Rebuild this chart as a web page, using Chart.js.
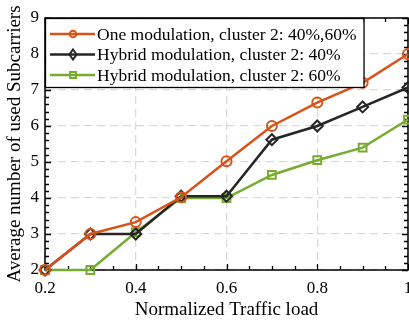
<!DOCTYPE html>
<html>
<head>
<meta charset="utf-8">
<script src="https://cdn.jsdelivr.net/npm/chart.js@4/dist/chart.umd.min.js"></script>
<style>
  html, body { margin: 0; padding: 0; background: #fff; }
  canvas { display: block; }
</style>
</head>
<body>
<canvas id="subcarriers" width="409" height="320"></canvas>
<script>
// values
const trafficLoad = [0.2, 0.3, 0.4, 0.5, 0.6, 0.7, 0.8, 0.9, 1.0];
const oneModulation = [2.0, 3.0, 3.33, 4.02, 5.02, 6.0, 6.65, 7.2, 8.0];
const hybrid40 = [2.0, 3.0, 3.0, 4.05, 4.05, 5.62, 6.0, 6.53, 7.07];
const hybrid60 = [2.0, 2.0, 3.05, 4.0, 4.0, 4.64, 5.05, 5.4, 6.18];
const seriesLabels = [
  'One modulation, cluster 2: 40%,60%',
  'Hybrid modulation, cluster 2: 40%',
  'Hybrid modulation, cluster 2: 60%',
];

const ORANGE = '#d95319';
const BLACK = '#262626';
const GREEN = '#77ac30';
const SERIF = "'Liberation Serif', 'DejaVu Serif', serif";

function toPoints(values) {
  return trafficLoad.map((x, i) => ({ x: x, y: values[i] }));
}

// small legend markers (smaller than the ones on the lines)
function drawMarker(ctx, style, x, y) {
  ctx.beginPath();
  if (style === 'circle') {
    ctx.arc(x, y, 3.3, 0, Math.PI * 2);
  } else if (style === 'rectRot') {
    ctx.moveTo(x, y - 5);
    ctx.lineTo(x + 3.6, y);
    ctx.lineTo(x, y + 5);
    ctx.lineTo(x - 3.6, y);
    ctx.closePath();
  } else {
    ctx.rect(x - 3, y - 3, 6, 6);
  }
  ctx.stroke();
}

// box round the plot + inward ticks on every side
const frameTicks = {
  id: 'frameTicks',
  beforeDatasetsDraw(chart) {
    const { ctx, chartArea: a, scales } = chart;
    const xs = scales.x, ys = scales.y;
    ctx.save();
    ctx.strokeStyle = '#000';
    ctx.lineWidth = 1.3;
    ctx.beginPath();
    for (let k = 0; k <= 16; k++) {
      const px = Math.round(xs.getPixelForValue(0.2 + k * 0.05)) + 0.5;
      const len = k % 4 === 0 ? 6 : 4;
      ctx.moveTo(px, a.bottom); ctx.lineTo(px, a.bottom - len);
      ctx.moveTo(px, a.top); ctx.lineTo(px, a.top + len);
    }
    for (let k = 0; k <= 35; k++) {
      const py = Math.round(ys.getPixelForValue(2 + k * 0.2)) + 0.5;
      const len = k % 5 === 0 ? 6 : 4;
      ctx.moveTo(a.left, py); ctx.lineTo(a.left + len, py);
      ctx.moveTo(a.right, py); ctx.lineTo(a.right - len, py);
    }
    ctx.stroke();
    ctx.lineWidth = 1.5;
    ctx.strokeRect(a.left, a.top, a.right - a.left, a.bottom - a.top);
    ctx.restore();
  }
};

// MATLAB-like legend box in the top-left corner
const cornerLegend = {
  id: 'cornerLegend',
  afterDraw(chart) {
    const { ctx, chartArea: a } = chart;
    ctx.save();
    ctx.font = '17.5px ' + SERIF;
    const widths = chart.data.datasets.map(d => ctx.measureText(d.label).width);
    const textX = a.left + 52;
    const boxW = textX - a.left + Math.max(...widths) + 7;
    const boxH = 69;
    ctx.fillStyle = '#fff';
    ctx.fillRect(a.left, a.top, boxW, boxH);
    ctx.strokeStyle = '#000';
    ctx.lineWidth = 1.3;
    ctx.strokeRect(a.left + 0.5, a.top + 0.5, boxW, boxH);
    chart.data.datasets.forEach((d, i) => {
      const cy = a.top + 16 + i * 20.5;
      ctx.strokeStyle = d.borderColor;
      ctx.lineWidth = 2.5;
      ctx.beginPath();
      ctx.moveTo(a.left + 5, cy);
      ctx.lineTo(a.left + 50, cy);
      ctx.stroke();
      ctx.lineWidth = 2;
      drawMarker(ctx, d.pointStyle, a.left + 28, cy);
      ctx.fillStyle = '#000';
      ctx.textBaseline = 'middle';
      ctx.fillText(d.label, textX, cy + 1);
    });
    ctx.restore();
  }
};

const lineDefaults = {
  borderWidth: 2.5,
  pointBorderWidth: 2,
  pointBackgroundColor: 'rgba(0,0,0,0)',
  fill: false,
  tension: 0,
  clip: false,
};

new Chart(document.getElementById('subcarriers'), {
  type: 'line',
  data: {
    datasets: [
      { ...lineDefaults, label: seriesLabels[0], data: toPoints(oneModulation), borderColor: ORANGE, pointBorderColor: ORANGE, pointStyle: 'circle', pointRadius: 5 },
      { ...lineDefaults, label: seriesLabels[1], data: toPoints(hybrid40), borderColor: BLACK, pointBorderColor: BLACK, pointStyle: 'rectRot', pointRadius: 5.5 },
      { ...lineDefaults, label: seriesLabels[2], data: toPoints(hybrid60), borderColor: GREEN, pointBorderColor: GREEN, pointStyle: 'rect', pointRadius: 5.5 },
    ],
  },
  options: {
    responsive: false,
    animation: false,
    layout: { autoPadding: false, padding: { top: 18, right: 1, left: 0, bottom: 0 } },
    plugins: { legend: { display: false }, tooltip: { enabled: false } },
    scales: {
      x: {
        type: 'linear',
        min: 0.2,
        max: 1,
        ticks: {
          stepSize: 0.2,
          color: '#000',
          padding: 8,
          maxRotation: 0,
          font: { family: SERIF, size: 17 },
          callback: v => String(+v.toFixed(1)),
        },
        grid: { color: '#d9d9d9', lineWidth: 1.3, drawTicks: false },
        border: { display: false, dash: [8, 5] },
        title: {
          display: true,
          text: 'Normalized Traffic load',
          color: '#000',
          font: { family: SERIF, size: 19, lineHeight: 1 },
          padding: { top: 0, bottom: 0 },
        },
        afterFit(scale) {
          scale.height = 50;
          scale.paddingLeft = 0;
          scale.paddingRight = 0;
        },
      },
      y: {
        min: 2,
        max: 9,
        ticks: {
          stepSize: 1,
          color: '#000',
          padding: 6,
          font: { family: SERIF, size: 17 },
        },
        grid: { color: '#d9d9d9', lineWidth: 1.3, drawTicks: false },
        border: { display: false, dash: [8, 5] },
        title: {
          display: true,
          text: 'Average number of used Subcarriers',
          color: '#000',
          font: { family: SERIF, size: 19, lineHeight: 1 },
          padding: { top: 6, bottom: 0 },
        },
        afterFit(scale) {
          scale.width = 45;
          scale.paddingTop = 0;
          scale.paddingBottom = 0;
        },
      },
    },
  },
  plugins: [frameTicks, cornerLegend],
});
</script>
</body>
</html>
